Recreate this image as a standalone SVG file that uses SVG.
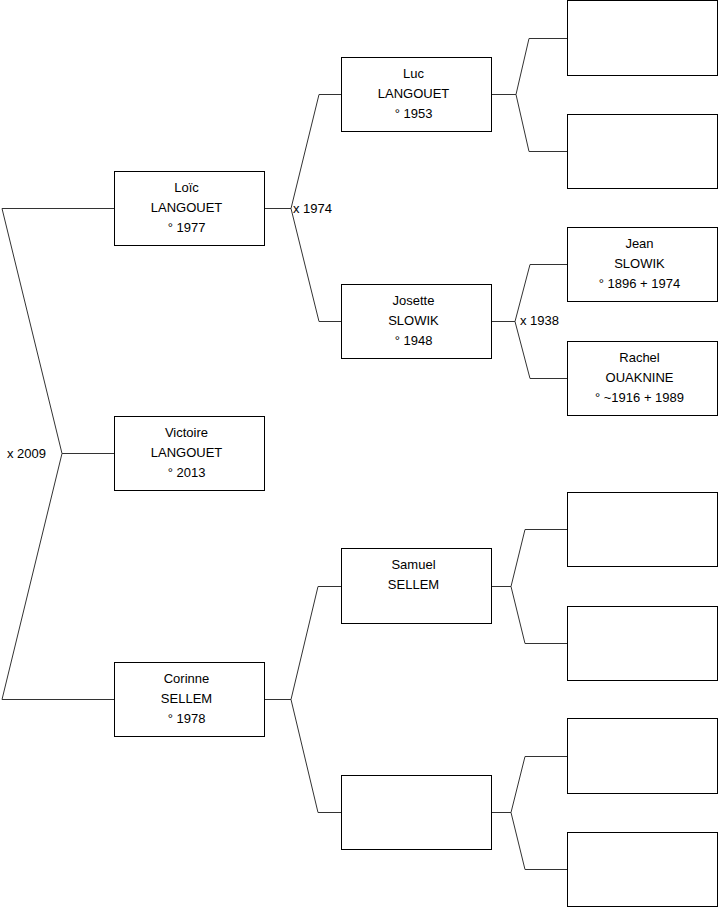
<svg xmlns="http://www.w3.org/2000/svg" width="719" height="908" viewBox="0 0 719 908">
<style>
.box{fill:#fff;stroke:#000;stroke-width:1}
.con{fill:none;stroke:#333;stroke-width:1}
text{font-family:"Liberation Sans",Arial,sans-serif;font-size:13px;fill:#000}
.n text{text-anchor:middle}
</style>
<rect width="719" height="908" fill="#fff"/>
<g id="connectors">
<path class="con" d="M114,208.5 H2 L62,453.5 L2,699.5 H114 M62,453.5 H114"/>
<path class="con" d="M265,208.5 H291 M341,94.5 H319 L291,208.5 L319,321.5 H341"/>
<path class="con" d="M492,94.5 H516 M567,38.5 H529 L516,94.5 L529,151.5 H567"/>
<path class="con" d="M492,321.5 H515 M567,264.5 H530 L515,321.5 L530,378.5 H567"/>
<path class="con" d="M265,699.5 H291 M341,586.5 H318 L291,699.5 L318,812.5 H341"/>
<path class="con" d="M492,586.5 H511 M567,529.5 H525 L511,586.5 L525,643.5 H567"/>
<path class="con" d="M492,812.5 H511 M567,756.5 H525 L511,812.5 L525,869.5 H567"/>
<text x="7" y="457.5">x 2009</text>
<text x="293" y="212.5">x 1974</text>
<text x="520" y="325">x 1938</text>
</g>
<g id="loic" class="n"><rect class="box" x="114.5" y="171.5" width="150" height="74"/>
<text x="186.5" y="191.5">Loïc</text><text x="186.5" y="211.5">LANGOUET</text><text x="186.5" y="231.5">° 1977</text></g>
<g id="victoire" class="n"><rect class="box" x="114.5" y="416.5" width="150" height="74"/>
<text x="186.5" y="436.5">Victoire</text><text x="186.5" y="456.5">LANGOUET</text><text x="186.5" y="476.5">° 2013</text></g>
<g id="corinne" class="n"><rect class="box" x="114.5" y="662.5" width="150" height="74"/>
<text x="186.5" y="682.5">Corinne</text><text x="186.5" y="702.5">SELLEM</text><text x="186.5" y="722.5">° 1978</text></g>
<g id="luc" class="n"><rect class="box" x="341.5" y="57.5" width="150" height="74"/>
<text x="413.5" y="78">Luc</text><text x="413.5" y="98">LANGOUET</text><text x="413.5" y="118">° 1953</text></g>
<g id="josette" class="n"><rect class="box" x="341.5" y="284.5" width="150" height="74"/>
<text x="413.5" y="304.5">Josette</text><text x="413.5" y="324.5">SLOWIK</text><text x="413.5" y="344.5">° 1948</text></g>
<g id="samuel" class="n"><rect class="box" x="341.5" y="548.5" width="150" height="75"/>
<text x="413.5" y="568.5">Samuel</text><text x="413.5" y="588.5">SELLEM</text></g>
<g id="corinne_mother" class="n"><rect class="box" x="341.5" y="775.5" width="150" height="74"/></g>
<g id="luc_father" class="n"><rect class="box" x="567.5" y="0.5" width="150" height="75"/></g>
<g id="luc_mother" class="n"><rect class="box" x="567.5" y="114.5" width="150" height="74"/></g>
<g id="jean" class="n"><rect class="box" x="567.5" y="227.5" width="150" height="74"/>
<text x="639.5" y="247.5">Jean</text><text x="639.5" y="267.5">SLOWIK</text><text x="639.5" y="287.5">° 1896 + 1974</text></g>
<g id="rachel" class="n"><rect class="box" x="567.5" y="341.5" width="150" height="74"/>
<text x="639.5" y="361.5">Rachel</text><text x="639.5" y="381.5">OUAKNINE</text><text x="639.5" y="401.5">° ~1916 + 1989</text></g>
<g id="samuel_father" class="n"><rect class="box" x="567.5" y="492.5" width="150" height="74"/></g>
<g id="samuel_mother" class="n"><rect class="box" x="567.5" y="606.5" width="150" height="74"/></g>
<g id="cm_father" class="n"><rect class="box" x="567.5" y="718.5" width="150" height="75"/></g>
<g id="cm_mother" class="n"><rect class="box" x="567.5" y="832.5" width="150" height="74"/></g>
</svg>
